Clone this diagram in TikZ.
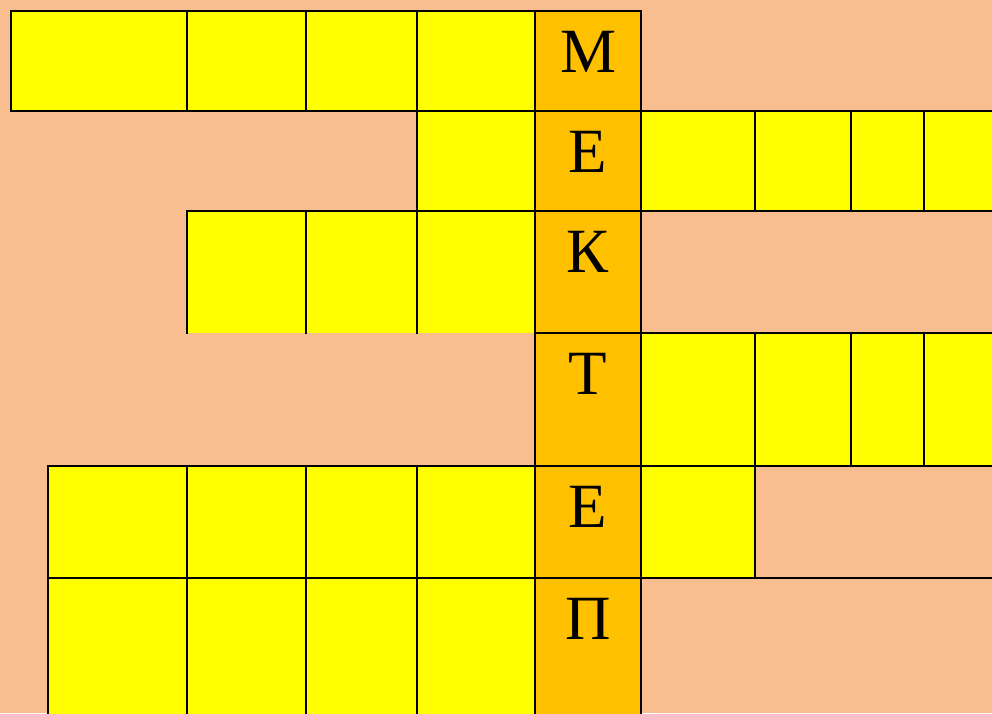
\documentclass[tikz,border=0pt]{standalone}
\usepackage{fontspec}
\setmainfont{Liberation Serif}
\usetikzlibrary{positioning}
\usepackage{xcolor}
\definecolor{peach}{HTML}{F9BE8F}
\definecolor{cellyellow}{HTML}{FFFF00}
\definecolor{keyorange}{HTML}{FFC000}

\begin{document}
\begin{tikzpicture}[
    x=1pt, y=-1pt,
    cell/.style={draw, line width=2.4pt, anchor=north west, inner sep=0pt, outer sep=0pt, fill=cellyellow},
    keycell/.style={cell, fill=keyorange, minimum width=106pt},
    edge/.style={line width=2.4pt, line cap=rect},
    letter/.style={inner sep=0pt, font=\fontsize{63}{63}\selectfont},
]

\useasboundingbox (0,0) rectangle (992,713);
\fill[peach] (0,0) rectangle (992,713);
\clip (0,0) rectangle (992,713);

% row 1
\foreach \x/\w [count=\i] in {11/176, 187/119, 306/111, 417/118}
    \node[cell, minimum width=\w pt, minimum height=100pt] (a\i) at (\x,11) {};

% row 2
\node[cell, minimum width=118pt, minimum height=100pt] (b1) at (417,111) {};
\foreach \x/\w [count=\i from 2] in {641/114, 755/96, 851/73, 924/120}
    \node[cell, minimum width=\w pt, minimum height=100pt] (b\i) at (\x,111) {};

% row 3 (open at the bottom)
\foreach \x/\w [count=\i] in {187/119, 306/111, 417/118} {
    \node[cell, draw=none, minimum width=\w pt, minimum height=122pt] (c\i) at (\x,211) {};
    \draw[edge] (c\i.south west) -- (c\i.north west) -- (c\i.north east) -- (c\i.south east);
}

% row 4
\foreach \x/\w [count=\i] in {641/114, 755/96, 851/73, 924/120}
    \node[cell, minimum width=\w pt, minimum height=133pt] (d\i) at (\x,333) {};

% row 5
\foreach \x/\w [count=\i] in {48/139, 187/119, 306/111, 417/118, 641/114}
    \node[cell, minimum width=\w pt, minimum height=112pt] (e\i) at (\x,466) {};
\node[cell, fill=none, minimum width=300pt, minimum height=112pt] (e6) at (755,466) {};

% row 6
\foreach \x/\w [count=\i] in {48/139, 187/119, 306/111, 417/118}
    \node[cell, minimum width=\w pt, minimum height=150pt] (f\i) at (\x,578) {};

% key column
\foreach \r/\y/\h in {1/11/100, 2/111/100, 3/211/122, 4/333/133, 5/466/112, 6/578/150}
    \node[keycell, minimum height=\h pt] (k\r) at (535,\y) {};

\foreach \r/\l in {1/М, 2/Е, 3/К, 4/Т, 5/Е, 6/П}
    \node[letter, below=20pt of k\r.north] (l\r) {\l};

\end{tikzpicture}
\end{document}
